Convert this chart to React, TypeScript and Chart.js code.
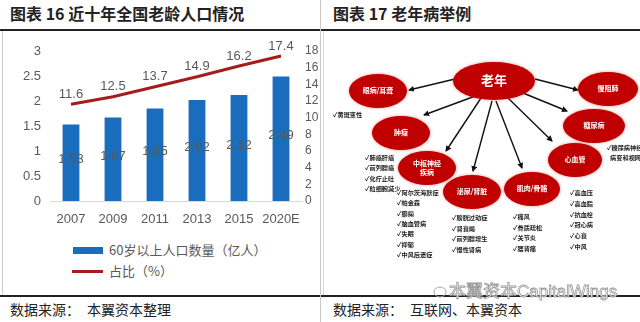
import React, { useEffect, useRef } from "react";
import { Chart, registerables } from "chart.js";

Chart.register(...registerables);

// ---------- data ----------
const categories = ["2007", "2009", "2011", "2013", "2015", "2020E"];
const populationValues = [1.53, 1.67, 1.85, 2.02, 2.12, 2.49]; // 亿人
const shareValues = [11.6, 12.5, 13.7, 14.9, 16.2, 17.4]; // %
const leftAxisMax = 3;
const leftAxisStep = 0.5;
const rightAxisMax = 18;
const rightAxisStep = 2;
const seriesNames = ["60岁以上人口数量（亿人）", "占比（%）"];

const leftTitle = "图表 16 近十年全国老龄人口情况";
const rightTitle = "图表 17 老年病举例";
const leftSource = "数据来源：\u3000本翼资本整理";
const rightSource = "数据来源：\u3000互联网、本翼资本";

// diagram content (right panel)
const diseaseGroups = ["老年", "眼病/耳聋", "慢阻肺", "肿瘤", "糖尿病", "心血管", "中枢神经|疾病", "泌尿/肾脏", "肌肉/骨骼"];
const listEye = ["✓黄斑变性"];
const listTumor = ["✓肺癌肝癌", "✓前列腺癌", "✓化疗止吐", "✓粒细胞减少"];
const listNerve = ["✓阿尔茨海默症", "✓帕金森", "✓癫痫", "✓脑血管病", "✓失眠", "✓抑郁", "✓中风后遗症"];
const listKidney = ["✓膀胱过动症", "✓肾衰竭", "✓前列腺增生", "✓慢性肾病"];
const listBone = ["✓痛风", "✓骨质疏松", "✓关节炎", "✓腰背痛"];
const listHeart = ["✓高血压", "✓高血脂", "✓抗血栓", "✓冠心病", "✓心衰", "✓中风"];
const listDiabetes = ["✓糖尿病神经性", "\u2002病变和视网膜"];

const BLUE = "#1a6cbd";
const RED = "#a51c1c";
const GRAY_TEXT = "#595959";
const TICK_FONT = { family: "'Liberation Sans', Arial, sans-serif", size: 13 };
const RIGHT_TICK_FONT = { family: "'Liberation Sans', Arial, sans-serif", size: 12 };

const valueLabelPlugin = {
  id: "valueLabels",
  afterDatasetsDraw(chart: any) {
    const ctx = chart.ctx;
    ctx.save();
    ctx.font = "13px 'Liberation Sans', Arial, sans-serif";
    ctx.fillStyle = GRAY_TEXT;
    ctx.textAlign = "center";
    ctx.textBaseline = "middle";
    const barMeta = chart.getDatasetMeta(0);
    barMeta.data.forEach((el: any, i: number) => {
      const p = el.getProps(["x", "y", "base"], true);
      ctx.fillText(populationValues[i].toFixed(2), p.x, (p.y + p.base) / 2 - 3);
    });
    const lineMeta = chart.getDatasetMeta(1);
    lineMeta.data.forEach((el: any, i: number) => {
      ctx.fillText(shareValues[i].toFixed(1), el.x, el.y - 10);
    });
    ctx.restore();
  },
};

function LeftChart() {
  const ref = useRef<HTMLCanvasElement | null>(null);
  useEffect(() => {
    if (!ref.current) return;
    const chart = new Chart(ref.current, {
      type: "bar",
      data: {
        labels: categories,
        datasets: [
          {
            type: "bar",
            label: seriesNames[0],
            data: populationValues,
            backgroundColor: BLUE,
            yAxisID: "y",
            categoryPercentage: 1,
            barPercentage: 0.4,
            order: 2,
          },
          {
            type: "line",
            label: seriesNames[1],
            data: shareValues,
            borderColor: RED,
            borderWidth: 3,
            pointRadius: 0,
            yAxisID: "y1",
            tension: 0,
            order: 1,
          },
        ],
      } as any,
      options: {
        animation: false,
        responsive: false,
        maintainAspectRatio: false,
        layout: { padding: { top: 19, left: 0, right: 0, bottom: 0 } },
        plugins: { legend: { display: false }, tooltip: { enabled: false } },
        scales: {
          x: {
            grid: { display: false, drawTicks: false },
            border: { display: true, color: "#d9d9d9", width: 1 },
            ticks: { color: GRAY_TEXT, font: TICK_FONT, padding: 11, maxRotation: 0, autoSkip: false },
            afterFit: (s: any) => { s.height = 31; },
          },
          y: {
            position: "left",
            min: 0,
            max: leftAxisMax,
            grid: { display: false, drawTicks: false },
            border: { display: false },
            ticks: {
              stepSize: leftAxisStep,
              color: GRAY_TEXT,
              font: TICK_FONT,
              padding: 9,
              autoSkip: false,
              callback: (v: any) => String(v),
            },
            afterFit: (s: any) => { s.width = 50; },
          },
          y1: {
            position: "right",
            min: 0,
            max: rightAxisMax,
            grid: { display: false, drawTicks: false },
            border: { display: false },
            ticks: {
              stepSize: rightAxisStep,
              color: GRAY_TEXT,
              font: RIGHT_TICK_FONT,
              padding: 3,
              autoSkip: false,
              callback: (v: any) => String(v),
            },
            afterFit: (s: any) => { s.width = 18; },
          },
        },
      } as any,
      plugins: [valueLabelPlugin],
    });
    return () => chart.destroy();
  }, []);
  return (
    <canvas
      ref={ref}
      width={320}
      height={200}
      style={{ position: "absolute", left: 0, top: 32, width: 320, height: 200 }}
    />
  );
}

type Node = { cx: number; cy: number; rx: number; ry: number; size: number };
const nodeGeom: Node[] = [
  { cx: 494, cy: 81, rx: 41, ry: 19, size: 13 },
  { cx: 378, cy: 91, rx: 29, ry: 17, size: 7 },
  { cx: 608, cy: 89, rx: 30, ry: 17, size: 7 },
  { cx: 401, cy: 133, rx: 29, ry: 17, size: 7 },
  { cx: 594, cy: 126, rx: 31, ry: 17, size: 7 },
  { cx: 575, cy: 160, rx: 27, ry: 17, size: 7 },
  { cx: 427, cy: 168, rx: 29, ry: 17, size: 7 },
  { cx: 472, cy: 192, rx: 29, ry: 17, size: 7 },
  { cx: 532, cy: 189, rx: 28, ry: 17, size: 7 },
];
const arrows: [number, number, number, number][] = [
  [455, 79, 409, 90],
  [535, 79, 578, 90],
  [478, 95, 424, 115],
  [523, 93, 567, 111],
  [481, 98, 446, 151],
  [492, 101, 473, 171],
  [496, 101, 522, 168],
  [508, 98, 552, 141],
];

function ListText({ x, y, lines, step }: { x: number; y: number; lines: string[]; step: number }) {
  return (
    <text
      x={x}
      y={y}
      fontSize={6.2}
      fontWeight={700}
      fill="#222"
      fontFamily="'Noto Sans CJK SC', sans-serif"
      dominantBaseline="middle"
    >
      {lines.map((l, i) => (
        <tspan key={i} x={x} y={y + i * step}>
          {l}
        </tspan>
      ))}
    </text>
  );
}

function Diagram() {
  return (
    <svg
      width={640}
      height={322}
      style={{ position: "absolute", left: 0, top: 0 }}
      viewBox="0 0 640 322"
    >
      <defs>
        <marker id="ah" markerWidth="6" markerHeight="6" refX="5" refY="3" orient="auto" markerUnits="userSpaceOnUse">
          <path d="M0,0 L6,3 L0,6 z" fill="#111" />
        </marker>
        <filter id="glow" x="-30%" y="-30%" width="160%" height="160%">
          <feGaussianBlur in="SourceAlpha" stdDeviation="1.6" result="b" />
          <feFlood floodColor="#e23030" floodOpacity="0.55" />
          <feComposite in2="b" operator="in" result="g" />
          <feMerge>
            <feMergeNode in="g" />
            <feMergeNode in="SourceGraphic" />
          </feMerge>
        </filter>
      </defs>
      {arrows.map((a, i) => (
        <line key={i} x1={a[0]} y1={a[1]} x2={a[2]} y2={a[3]} stroke="#111" strokeWidth={1.4} markerEnd="url(#ah)" />
      ))}
      {nodeGeom.map((n, i) => {
        const parts = diseaseGroups[i].split("|");
        return (
          <g key={i}>
            <ellipse cx={n.cx} cy={n.cy} rx={n.rx} ry={n.ry} fill="#c00000" filter="url(#glow)" />
            <text
              x={n.cx}
              y={n.cy}
              fill="#fff"
              fontSize={n.size}
              fontWeight={700}
              textAnchor="middle"
              dominantBaseline="middle"
              fontFamily="'Noto Sans CJK SC', sans-serif"
            >
              {parts.map((p, j) => (
                <tspan key={j} x={n.cx} y={n.cy + (j - (parts.length - 1) / 2) * 9}>
                  {p}
                </tspan>
              ))}
            </text>
          </g>
        );
      })}
      <ListText x={333} y={115} lines={listEye} step={10} />
      <ListText x={365} y={158} lines={listTumor} step={10.3} />
      <ListText x={397} y={193} lines={listNerve} step={10.3} />
      <ListText x={452} y={218} lines={listKidney} step={10.7} />
      <ListText x={513} y={217} lines={listBone} step={10.7} />
      <ListText x={570} y={193} lines={listHeart} step={10.8} />
      <ListText x={607} y={148} lines={listDiabetes} step={10} />
      {/* watermark */}
      <ellipse cx={440} cy={292} rx={6} ry={5} fill="none" stroke="#aaa" strokeWidth={1} />
      <text
        x={449}
        y={293}
        fontSize={17}
        fill="#fff"
        stroke="#9a9a9a"
        strokeWidth={0.8}
        dominantBaseline="middle"
        fontFamily="'Liberation Sans', 'Noto Sans CJK SC', sans-serif"
      >
        本翼资本CapitalWings
      </text>
    </svg>
  );
}

export default function App() {
  const titleStyle: React.CSSProperties = {
    position: "absolute",
    top: 3,
    fontSize: 16,
    fontWeight: 700,
    color: "#222",
    fontFamily: "'Noto Sans CJK SC', sans-serif",
    whiteSpace: "nowrap",
    lineHeight: "20px",
  };
  const sourceStyle: React.CSSProperties = {
    position: "absolute",
    top: 299,
    fontSize: 14,
    color: "#222",
    fontFamily: "'Noto Sans CJK SC', sans-serif",
    whiteSpace: "nowrap",
    lineHeight: "20px",
  };
  const legendText: React.CSSProperties = {
    position: "absolute",
    fontSize: 13,
    color: GRAY_TEXT,
    fontFamily: "'Noto Sans CJK SC', sans-serif",
    whiteSpace: "nowrap",
    lineHeight: "16px",
  };
  return (
    <div
      style={{
        position: "fixed",
        left: 0,
        top: 0,
        width: 640,
        height: 322,
        background: "#fff",
        overflow: "hidden",
      }}
    >
      <div style={{ ...titleStyle, left: 10 }}>{leftTitle}</div>
      <div style={{ ...titleStyle, left: 333 }}>{rightTitle}</div>
      {/* rules */}
      <div style={{ position: "absolute", left: 0, top: 29, width: 640, height: 2, background: "#222" }} />
      <div style={{ position: "absolute", left: 0, top: 295, width: 640, height: 2, background: "#222" }} />
      <div style={{ position: "absolute", left: 2, top: 31, width: 1, height: 264, background: "#c8c8c8" }} />
      <div style={{ position: "absolute", left: 320, top: 0, width: 1, height: 322, background: "#c8c8c8" }} />
      <div style={{ position: "absolute", left: 323, top: 31, width: 1, height: 264, background: "#dcdcdc" }} />

      <LeftChart />

      {/* legend */}
      <div style={{ position: "absolute", left: 73, top: 247, width: 30, height: 7, background: BLUE }} />
      <div style={{ ...legendText, left: 109, top: 242 }}>{seriesNames[0]}</div>
      <div style={{ position: "absolute", left: 72, top: 270, width: 31, height: 3, background: RED }} />
      <div style={{ ...legendText, left: 109, top: 263 }}>{seriesNames[1]}</div>

      <div style={{ ...sourceStyle, left: 10 }}>{leftSource}</div>
      <div style={{ ...sourceStyle, left: 333 }}>{rightSource}</div>

      <Diagram />
    </div>
  );
}
